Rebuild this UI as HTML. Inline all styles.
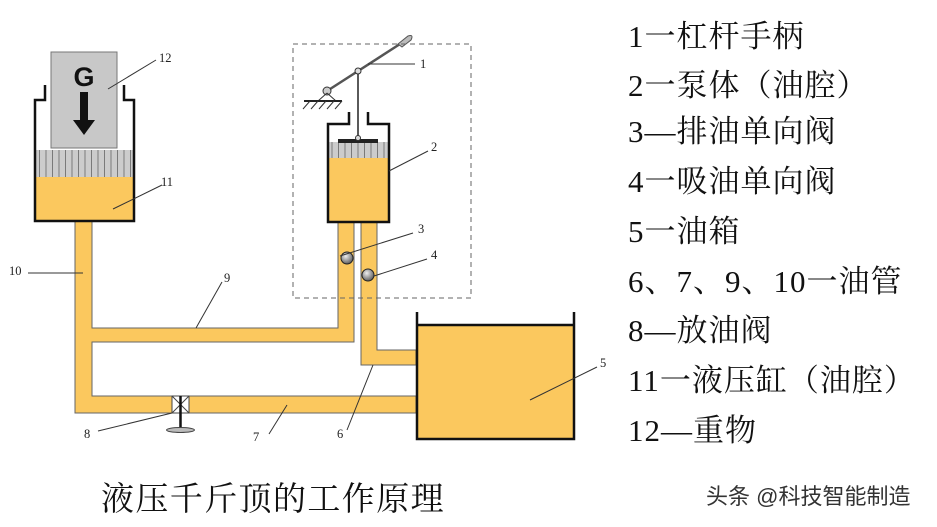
<!DOCTYPE html>
<html><head><meta charset="utf-8"><style>
html,body{margin:0;padding:0;background:#fff;}
svg{display:block;}
.lg{font-family:"Liberation Serif","Noto Serif CJK SC",serif;font-size:31px;letter-spacing:1px;fill:#111;}
.nm{font-family:"Liberation Serif",serif;font-size:12.5px;fill:#222;}
</style></head><body>
<svg width="937" height="527" viewBox="0 0 937 527" xmlns="http://www.w3.org/2000/svg">
<defs>
<radialGradient id="ball" cx="0.4" cy="0.35" r="0.7"><stop offset="0" stop-color="#eee"/><stop offset="1" stop-color="#555"/></radialGradient>
<pattern id="stripe" width="6.5" height="30" patternUnits="userSpaceOnUse"><rect width="6.5" height="30" fill="#ccc"/><line x1="0.5" y1="0" x2="0.5" y2="30" stroke="#666" stroke-width="0.8"/></pattern>
</defs>
<g fill="#fbc85e" stroke="#666" stroke-width="1">
<path d="M75 221 H92 V328 H338 V221 H354 V342 H92 V396 H416 V413 H75 Z"/>
<path d="M361 222 H377 V350 H416 V365 H361 Z"/>
</g>
<rect x="51" y="52" width="66" height="96" fill="#c8c8c8" stroke="#777"/>
<text x="84" y="86" text-anchor="middle" font-family="Liberation Sans,sans-serif" font-weight="bold" font-size="27" fill="#111">G</text>
<rect x="80" y="92" width="8" height="30" fill="#111"/>
<polygon points="73,120 95,120 84,135" fill="#111"/>
<rect x="36" y="150" width="97" height="28" fill="url(#stripe)"/>
<rect x="36" y="177" width="97" height="44" fill="#fbc85e"/>
<path d="M45 85 V100 H35 V221 H134 V100 H124 V85" fill="none" stroke="#111" stroke-width="2.5"/>
<rect x="329" y="142" width="59" height="16" fill="url(#stripe)"/>
<rect x="329" y="158" width="59" height="64" fill="#fbc85e"/>
<rect x="338" y="139" width="40" height="4" fill="#222"/>
<path d="M349 112 V124 H328 V222 H389 V124 H368 V112" fill="none" stroke="#111" stroke-width="2.5"/>
<line x1="358" y1="71" x2="358" y2="138" stroke="#222" stroke-width="1.5"/>
<circle cx="358" cy="138" r="2.5" fill="#ddd" stroke="#333"/>
<line x1="327" y1="91" x2="400" y2="44" stroke="#555" stroke-width="2.5"/>
<path d="M398 44 L408 36 Q414 34 411 40 L402 47 Z" fill="#bbb" stroke="#555"/>
<circle cx="358" cy="71" r="3" fill="#ddd" stroke="#333"/>
<circle cx="327" cy="91" r="4" fill="#ccc" stroke="#333"/>
<path d="M327 93 L318 101 M327 93 L336 101" stroke="#333"/>
<line x1="304" y1="101" x2="342" y2="101" stroke="#222" stroke-width="2"/>
<path d="M310 101 l-7 8 M318 101 l-7 8 M326 101 l-7 8 M334 101 l-7 8 M342 101 l-7 8" stroke="#333"/>
<rect x="293" y="44" width="178" height="254" fill="none" stroke="#666" stroke-dasharray="5,4"/>
<circle cx="347" cy="258" r="6" fill="url(#ball)" stroke="#222"/>
<circle cx="368" cy="275" r="6" fill="url(#ball)" stroke="#222"/>
<rect x="417" y="325" width="157" height="114" fill="#fbc85e"/>
<path d="M417 312 V439 H574 V312 M417 325 H574" fill="none" stroke="#111" stroke-width="2.5"/>
<rect x="172" y="396" width="17" height="17" fill="#fff" stroke="#444"/>
<path d="M172 396 L189 413 M189 396 L172 413" stroke="#444"/>
<line x1="180.5" y1="396" x2="180.5" y2="428" stroke="#111" stroke-width="2.5"/>
<ellipse cx="180.5" cy="430" rx="14" ry="2.5" fill="#bbb" stroke="#444"/>
<g stroke="#333" stroke-width="1" fill="none">
<line x1="108" y1="89" x2="156" y2="60"/>
<line x1="113" y1="209" x2="162" y2="185"/>
<line x1="28" y1="273" x2="83" y2="273"/>
<line x1="196" y1="328" x2="222" y2="282"/>
<line x1="368" y1="64" x2="415" y2="64"/>
<line x1="389" y1="171" x2="428" y2="151"/>
<line x1="340" y1="256" x2="413" y2="233"/>
<line x1="374" y1="276" x2="427" y2="259"/>
<line x1="530" y1="400" x2="597" y2="367"/>
<line x1="373" y1="365" x2="347" y2="430"/>
<line x1="287" y1="405" x2="269" y2="434"/>
<line x1="98" y1="431" x2="172" y2="413"/>
</g>
<g class="nm">
<text x="159" y="62">12</text><text x="161" y="186">11</text><text x="9" y="275">10</text>
<text x="224" y="282">9</text><text x="420" y="68">1</text><text x="431" y="151">2</text>
<text x="418" y="233">3</text><text x="431" y="259">4</text><text x="600" y="367">5</text>
<text x="337" y="438">6</text><text x="253" y="441">7</text><text x="84" y="438">8</text>
</g>
<g class="lg">
<text x="628" y="47">1一杠杆手柄</text>
<text x="628" y="96">2一泵体（油腔）</text>
<text x="628" y="142">3—排油单向阀</text>
<text x="628" y="192">4一吸油单向阀</text>
<text x="628" y="242">5一油箱</text>
<text x="628" y="292">6、7、9、10一油管</text>
<text x="628" y="341">8—放油阀</text>
<text x="628" y="391">11一液压缸（油腔）</text>
<text x="628" y="441">12—重物</text>
</g>
<text x="101" y="510" font-family="Liberation Serif,'Noto Serif CJK SC',serif" font-size="33" letter-spacing="1.4" fill="#111">液压千斤顶的工作原理</text>
<text x="706" y="504" font-family="Liberation Sans,'Noto Sans CJK SC',sans-serif" font-size="22" fill="#333">头条 @科技智能制造</text>
</svg>
</body></html>
